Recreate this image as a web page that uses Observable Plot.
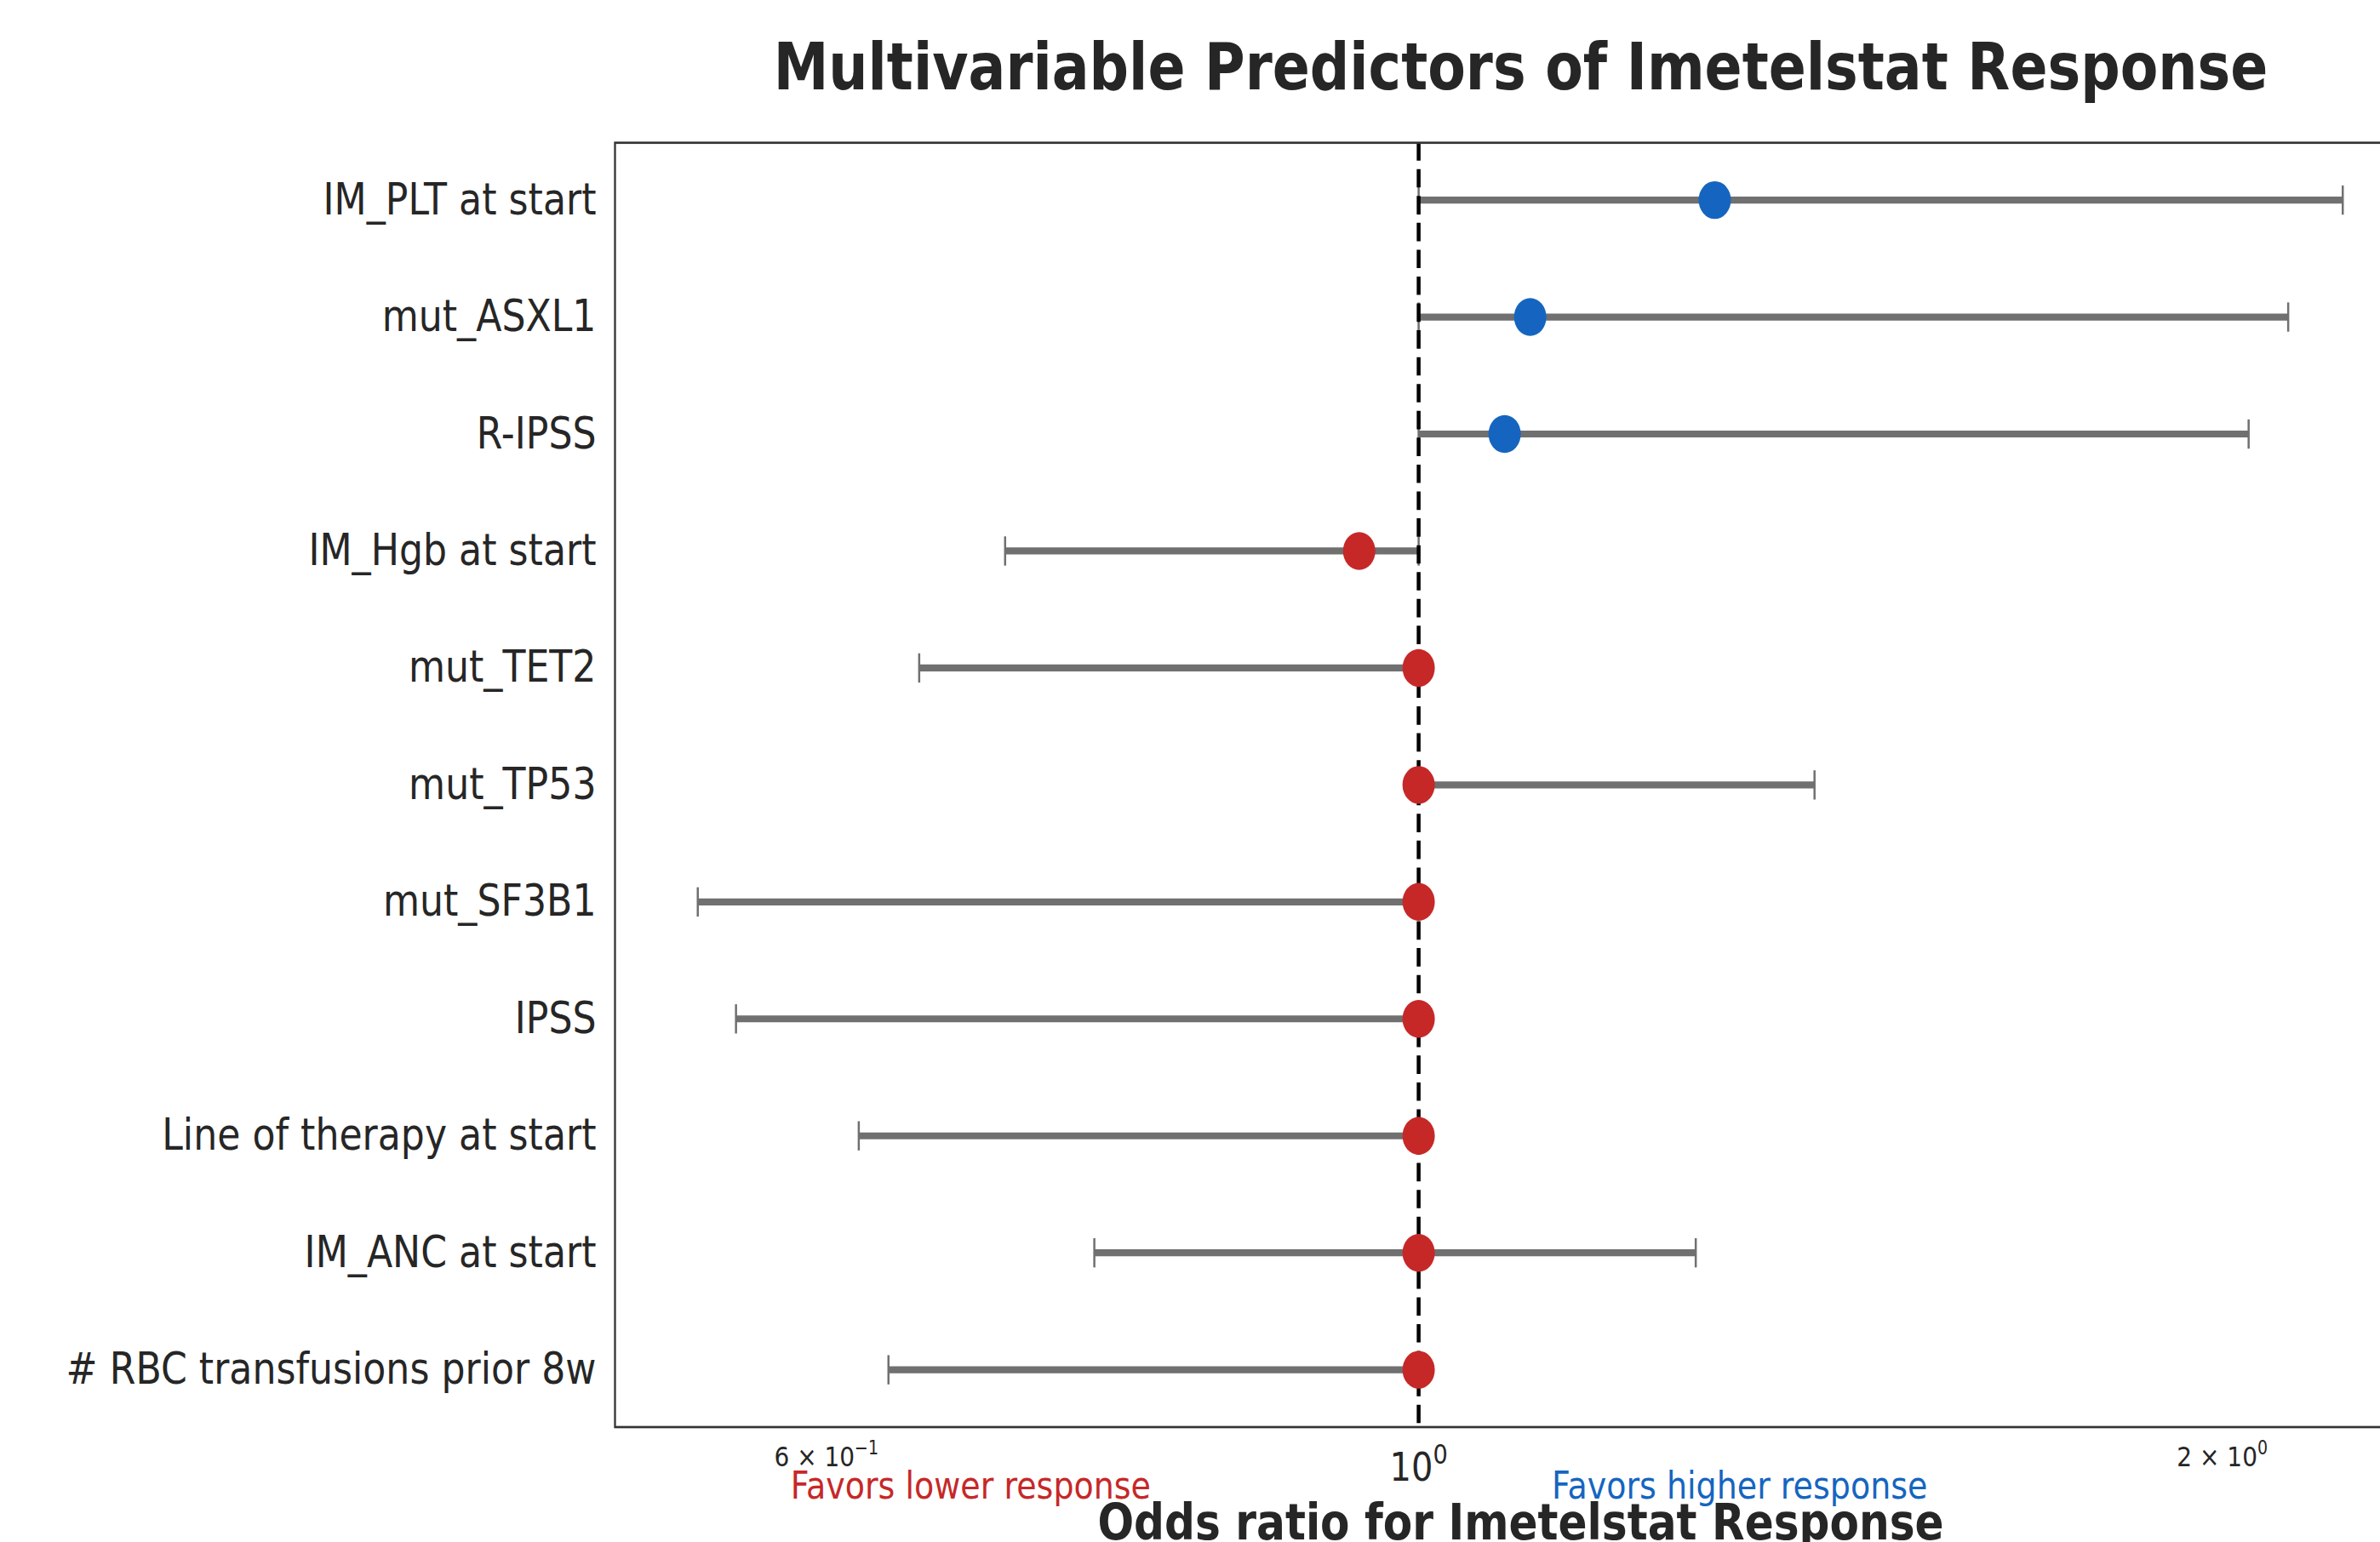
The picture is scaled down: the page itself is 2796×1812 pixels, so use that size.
<!DOCTYPE html>
<html>
<head>
<meta charset="utf-8">
<script src="https://cdn.jsdelivr.net/npm/d3@7"></script>
<script src="https://cdn.jsdelivr.net/npm/@observablehq/plot@0.6"></script>
<style>
  html, body { margin: 0; padding: 0; background: #ffffff; overflow: hidden; }
  #chart { width: 2796px; height: 1812px; overflow: hidden; }
</style>
</head>
<body>
<div id="chart"></div>
<script>
// ---- data ----
const predictors = [
  "IM_PLT at start",
  "mut_ASXL1",
  "R-IPSS",
  "IM_Hgb at start",
  "mut_TET2",
  "mut_TP53",
  "mut_SF3B1",
  "IPSS",
  "Line of therapy at start",
  "IM_ANC at start",
  "# RBC transfusions prior 8w"
];
const oddsRatio = [1.291, 1.101, 1.077, 0.950, 1.0, 1.0, 1.0, 1.0, 1.0, 1.0, 1.0];
const ciLower   = [1.0, 1.0, 1.0, 0.700, 0.650, 1.0, 0.537, 0.555, 0.617, 0.756, 0.633];
const ciUpper   = [2.219, 2.117, 2.046, 1.0, 1.0, 1.407, 1.0, 1.0, 1.0, 1.270, 1.0];

const tickValues = [0.6, 1, 2];
const tickBase = ["6 × 10", "10", "2 × 10"];
const tickExponent = ["−1", "0", "0"];
const tickIsMajor = [false, true, false];

const titleText = "Multivariable Predictors of Imetelstat Response";
const xLabelText = "Odds ratio for Imetelstat Response";
const favorLabels = ["Favors lower response", "Favors higher response"];
const favorAt = [0.6795, 1.319];

// ---- build table ----
const BLUE = "#1565c0", RED = "#c62828", GRAY = "#707070", INK = "#262626";
const rows = predictors.map((p, i) => ({
  label: p, or: oddsRatio[i], lo: ciLower[i], hi: ciUpper[i],
  color: oddsRatio[i] > 1 ? BLUE : RED
}));
const SUP = "^";
const ticks = tickValues.map((v, i) => ({v, label: tickBase[i] + SUP + tickExponent[i], major: tickIsMajor[i]}));
const favors = favorLabels.map((t, i) => ({t, x: favorAt[i], color: i === 0 ? RED : BLUE}));

const W = 2850, H = 1550, FB = 1434; // frame bottom in svg units
const font = "DejaVu Sans";

// error-bar cap: a short vertical stroke
const capSymbol = {
  draw(context) {
    context.moveTo(0, -14.7);
    context.lineTo(0, 14.7);
  }
};

const svg = Plot.plot({
  width: W,
  height: H,
  marginLeft: 722,
  marginRight: 0,
  marginTop: 143,
  marginBottom: H - FB,
  style: {fontFamily: font, fontSize: "44.2px", color: INK, background: "white", overflow: "visible"},
  x: {type: "log", domain: [0.5, 2.385], axis: null},
  y: {type: "point", domain: predictors, padding: 0.49, round: false, tickSize: 0, tickPadding: 22, label: null},
  marks: [
    Plot.ruleY(rows, {y: "label", x1: "lo", x2: "hi", stroke: GRAY, strokeWidth: 7}),
    Plot.dot(rows, {x: "lo", y: "label", symbol: capSymbol, r: 5, stroke: GRAY, fill: "none", strokeWidth: 2.5}),
    Plot.dot(rows, {x: "hi", y: "label", symbol: capSymbol, r: 5, stroke: GRAY, fill: "none", strokeWidth: 2.5}),
    Plot.ruleX([1], {stroke: "#000", strokeWidth: 4.5, strokeDasharray: "18.5,8.5"}),
    Plot.dot(rows, {x: "or", y: "label", r: 19, fill: "color", stroke: null}),
    Plot.frame({stroke: "#333", strokeWidth: 2.3}),
    // x tick labels
    Plot.text(ticks.filter(d => d.major), {x: "v", text: "label", frameAnchor: "bottom", lineAnchor: "bottom", dy: 53.8, fontSize: 40, fill: INK}),
    Plot.text(ticks.filter(d => !d.major), {x: "v", text: "label", frameAnchor: "bottom", lineAnchor: "bottom", dy: 39.6, fontSize: 28, fill: INK}),
    // favors annotations
    Plot.text(favors, {x: "x", text: "t", fill: "color", frameAnchor: "bottom", lineAnchor: "bottom", dy: 71.5, fontSize: 38}),
    // x label
    Plot.text([xLabelText], {text: d => d, frameAnchor: "bottom", lineAnchor: "bottom", dy: 112.6, fontSize: 50.2, fontWeight: "bold", fill: INK}),
    // title
    Plot.text([titleText], {text: d => d, frameAnchor: "top", lineAnchor: "bottom", dy: -54, fontSize: 65, fontWeight: "bold", fill: INK})
  ]
});

// turn "base^exp" tick labels into text with a raised, smaller exponent
svg.querySelectorAll("text").forEach(t => {
  const s = t.textContent;
  if (!s.includes(SUP)) return;
  const [base, exp] = s.split(SUP);
  while (t.firstChild) t.removeChild(t.firstChild);
  t.appendChild(document.createTextNode(base));
  const ts = document.createElementNS("http://www.w3.org/2000/svg", "tspan");
  ts.setAttribute("font-size", "0.68em");
  ts.setAttribute("dy", "-0.62em");
  ts.textContent = exp;
  t.appendChild(ts);
});

// the reference is stretched vertically: map the drawing onto 2850 x 1812 pixels
svg.setAttribute("viewBox", `0 0 ${W} ${H}`);
svg.setAttribute("preserveAspectRatio", "none");
svg.style.width = W + "px";
svg.style.height = "1812px";
svg.style.maxWidth = "none";
svg.style.display = "block";
document.getElementById("chart").appendChild(svg);
</script>
</body>
</html>
